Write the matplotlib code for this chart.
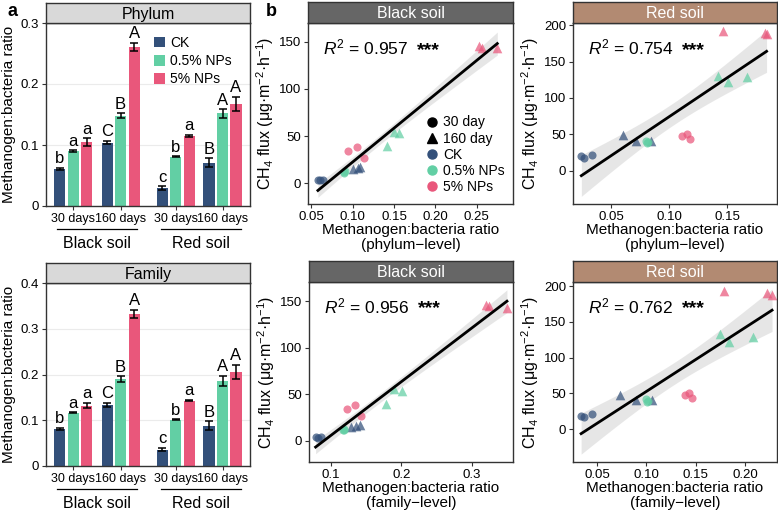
import numpy as np
import matplotlib
matplotlib.use("Agg")
import matplotlib.pyplot as plt
from matplotlib.lines import Line2D
import matplotlib.transforms as mtransforms

plt.rcParams['font.family'] = ['Liberation Sans', 'DejaVu Sans']
plt.rcParams['mathtext.fontset'] = 'custom'
plt.rcParams['mathtext.rm'] = 'Liberation Sans'
plt.rcParams['mathtext.it'] = 'Liberation Sans:italic'
plt.rcParams['mathtext.bf'] = 'Liberation Sans:bold'

# ---------------- data ----------------
treatments = ['CK', '0.5% NPs', '5% NPs']
days = ['30 days', '160 days', '30 days', '160 days']
soils = ['Black soil', 'Red soil']
colors = ['#33507A', '#62CFA4', '#E9577B']

# bar charts: order = Black 30, Black 160, Red 30, Red 160
phy_mean = [[0.061, 0.104, 0.029, 0.071],
            [0.090, 0.148, 0.081, 0.152],
            [0.105, 0.261, 0.115, 0.167]]
phy_se = [[0.002, 0.003, 0.003, 0.007],
          [0.001, 0.004, 0.001, 0.007],
          [0.006, 0.007, 0.002, 0.012]]
phy_letters = [['b', 'C', 'c', 'B'],
               ['a', 'B', 'b', 'A'],
               ['a', 'A', 'a', 'A']]

fam_mean = [[0.081, 0.134, 0.036, 0.088],
            [0.116, 0.190, 0.101, 0.186],
            [0.132, 0.333, 0.143, 0.206]]
fam_se = [[0.003, 0.004, 0.004, 0.010],
          [0.001, 0.006, 0.001, 0.011],
          [0.006, 0.009, 0.002, 0.015]]
fam_letters = phy_letters

# scatter: per treatment, 3 reps at 30 d then 3 reps at 160 d
# black soil, phylum
bp_x = [[0.058, 0.060, 0.064, 0.100, 0.106, 0.109],
        [0.089, 0.090, 0.091, 0.141, 0.150, 0.156],
        [0.094, 0.105, 0.114, 0.253, 0.257, 0.275]]
bp_y = [[3.5, 3.0, 3.2, 15, 16.4, 17.5],
        [11, 12, 13, 39, 54, 53],
        [34, 38.5, 27, 146, 144, 143]]
# red soil, phylum
rp_x = [[0.024, 0.026, 0.033, 0.060, 0.071, 0.084],
        [0.080, 0.081, 0.082, 0.142, 0.151, 0.167],
        [0.111, 0.115, 0.118, 0.146, 0.183, 0.184]]
rp_y = [[19.6, 16.9, 21.4, 48.6, 40.8, 40.8],
        [40.8, 38.6, 39.5, 130, 122.5, 128.4],
        [47.6, 49.9, 43.1, 191.8, 189.7, 188.3]]
# black soil, family
bf_x = [[0.078, 0.081, 0.085, 0.128, 0.135, 0.141],
        [0.117, 0.118, 0.119, 0.178, 0.190, 0.201],
        [0.122, 0.134, 0.143, 0.320, 0.324, 0.350]]
bf_y = [[3.6, 3.4, 3.8, 14.6, 16, 17],
        [11, 12, 13, 40, 56, 53.6],
        [34, 38.3, 27, 146.5, 144.7, 143]]
# red soil, family
rf_x = [[0.034, 0.037, 0.045, 0.073, 0.089, 0.106],
        [0.100, 0.101, 0.102, 0.174, 0.183, 0.208],
        [0.139, 0.143, 0.146, 0.178, 0.222, 0.227]]
rf_y = [[18, 17.2, 20.8, 48.5, 41, 41],
        [41.6, 38, 39.5, 132.6, 122.5, 129],
        [48.5, 50.4, 44, 193.6, 190.4, 188]]

r2_text = ['0.957', '0.754', '0.956', '0.762']

# ---------------- figure ----------------
W, H = 778, 515
fig = plt.figure(figsize=(W / 100, H / 100), dpi=100)
TICK = 9.5


def px_axes(left, top, right, bottom):
    return fig.add_axes([left / W, 1 - bottom / H, (right - left) / W, (bottom - top) / H])


def add_strip(left, top, right, bottom, label, fc, tc):
    s = px_axes(left, top, right, bottom)
    s.set_facecolor(fc)
    s.set_xticks([])
    s.set_yticks([])
    for sp in s.spines.values():
        sp.set_color('#333333')
        sp.set_linewidth(1.0)
    s.text(0.5, 0.45, label, ha='center', va='center', color=tc, fontsize=11.5,
           transform=s.transAxes)


centers = np.array([0, 1, 2.16, 3.15])
offs = [-0.285, 0, 0.285]
bw = 0.235


def bar_panel(top, bottom, means, ses, letters, ymax, yticks, title, legend=False):
    ax = px_axes(46, top, 250, bottom)
    add_strip(46, top - 20, 250, top, title, '#D9D9D9', 'black')
    for i in range(3):
        xs = centers + offs[i]
        ax.bar(xs, means[i], width=bw, color=colors[i], label=treatments[i], zorder=2)
        ax.errorbar(xs, means[i], yerr=ses[i], fmt='none', ecolor='black',
                    elinewidth=1.1, capsize=2.8, capthick=1.1, zorder=3)
        for x, m, s, l in zip(xs, means[i], ses[i], letters[i]):
            ax.text(x, m + s + ymax * 0.008, l, ha='center', va='bottom', fontsize=12)
    ax.set_xlim(-0.576, 3.73)
    ax.set_ylim(0, ymax)
    ax.set_yticks(yticks)
    ax.set_yticklabels(['0'] + [f'{v:g}' for v in yticks[1:]], fontsize=TICK)
    ax.set_xticks(centers)
    ax.set_xticklabels(days, fontsize=9)
    ax.tick_params(length=3, pad=2, color='#333333')
    ax.grid(axis='y', color='#EBEBEB', lw=0.8, zorder=0)
    ax.set_axisbelow(True)
    for sp in ax.spines.values():
        sp.set_color('#333333')
        sp.set_linewidth(1.0)
    ax.set_ylabel('Methanogen:bacteria ratio', fontsize=11, labelpad=3)
    tr = mtransforms.blended_transform_factory(ax.transData, ax.transAxes)
    for c, soil in zip([0.5, 2.7], soils):
        ax.plot([c - 0.85, c + 0.85], [-0.125, -0.125], color='black', lw=0.9,
                transform=tr, clip_on=False)
        ax.text(c, -0.205, soil, ha='center', va='center', fontsize=11.5, transform=tr)
    if legend:
        ax.legend(loc='upper left', bbox_to_anchor=(0.5, 0.96), frameon=False,
                  fontsize=10, handlelength=0.8, handleheight=0.8, handletextpad=0.4,
                  labelspacing=0.3, borderaxespad=0)
    return ax


bar_panel(23, 206, phy_mean, phy_se, phy_letters, 0.3, [0, 0.1, 0.2, 0.3], 'Phylum', legend=True)
bar_panel(283, 466, fam_mean, fam_se, fam_letters, 0.4, [0, 0.1, 0.2, 0.3, 0.4], 'Family')


def fit_band(x, y, xs):
    b, a = np.polyfit(x, y, 1)
    n = len(x)
    pred = a + b * xs
    resid = y - (a + b * x)
    s = np.sqrt(np.sum(resid ** 2) / (n - 2))
    sxx = np.sum((x - x.mean()) ** 2)
    se = s * np.sqrt(1 / n + (xs - x.mean()) ** 2 / sxx)
    t = 2.12
    return pred, pred - t * se, pred + t * se


def scatter_panel(box, xs, ys, xlim, ylim, xticks, xtl, yticks, title, fc, r2, level, legend=False):
    left, top, right, bottom = box
    ax = px_axes(left, top, right, bottom)
    add_strip(left, top - 21, right, top, title, fc, 'white')
    allx = np.concatenate([np.array(v) for v in xs])
    ally = np.concatenate([np.array(v) for v in ys])
    gx = np.linspace(allx.min(), allx.max(), 100)
    pred, lo, hi = fit_band(allx, ally, gx)
    ax.fill_between(gx, lo, hi, color='#D3D3D3', alpha=0.55, lw=0, zorder=1)
    for i in range(3):
        ax.scatter(xs[i][:3], ys[i][:3], marker='o', s=34, color=colors[i], alpha=0.72,
                   lw=0, zorder=2)
        ax.scatter(xs[i][3:], ys[i][3:], marker='^', s=48, color=colors[i], alpha=0.72,
                   lw=0, zorder=2)
    ax.plot(gx, pred, color='black', lw=2, zorder=3)
    ax.set_xlim(*xlim)
    ax.set_ylim(*ylim)
    ax.set_xticks(xticks)
    ax.set_xticklabels(xtl, fontsize=TICK)
    ax.set_yticks(yticks)
    ax.set_yticklabels([str(v) for v in yticks], fontsize=TICK)
    ax.tick_params(length=3, pad=2, color='#333333')
    for sp in ax.spines.values():
        sp.set_color('#333333')
        sp.set_linewidth(1.0)
    ax.set_xlabel('Methanogen:bacteria ratio\n(' + level + '\u2212level)', fontsize=11,
                  linespacing=1.1, labelpad=0)
    ax.set_ylabel('CH$_4$ flux (\u03bcg\u00b7m$^{-2}$\u00b7h$^{-1}$)',
                  fontsize=11.5, labelpad=2)
    t1 = ax.text(0.075, 0.865, r'$\it{R}^{2}$' + ' = ' + r2, transform=ax.transAxes,
                 ha='left', va='center', fontsize=12.5)
    ax.annotate('***', xy=(1, 0.5), xycoords=t1, xytext=(6, -2), textcoords='offset points',
                ha='left', va='center', fontsize=14, fontweight='bold')
    if legend:
        h = [Line2D([], [], marker='o', ls='', color='black', ms=6.5, label='30 day'),
             Line2D([], [], marker='^', ls='', color='black', ms=7.5, label='160 day')]
        for i in range(3):
            h.append(Line2D([], [], marker='o', ls='', color=colors[i], ms=6.5,
                            label=treatments[i]))
        ax.legend(handles=h, loc='upper left', bbox_to_anchor=(0.55, 0.52), frameon=False,
                  fontsize=10, handlelength=0.8, handletextpad=0.4, labelspacing=0.15,
                  borderaxespad=0)
    return ax


scatter_panel((308, 23, 513, 204), bp_x, bp_y, (0.046, 0.294), (-22, 170),
              [0.05, 0.10, 0.15, 0.20, 0.25], ['0.05', '0.10', '0.15', '0.20', '0.25'],
              [0, 50, 100, 150], 'Black soil', '#666666', r2_text[0], 'phylum', legend=True)
scatter_panel((573, 23, 777, 204), rp_x, rp_y, (0.0168, 0.193), (-46, 203),
              [0.05, 0.10, 0.15], ['0.05', '0.10', '0.15'],
              [0, 50, 100, 150, 200], 'Red soil', '#B28A72', r2_text[1], 'phylum')
scatter_panel((309, 282, 513, 462), bf_x, bf_y, (0.0686, 0.3586), (-23, 171),
              [0.1, 0.2, 0.3], ['0.1', '0.2', '0.3'],
              [0, 50, 100, 150], 'Black soil', '#666666', r2_text[2], 'family')
scatter_panel((573, 282, 777, 462), rf_x, rf_y, (0.0258, 0.232), (-46, 206),
              [0.05, 0.10, 0.15, 0.20], ['0.05', '0.10', '0.15', '0.20'],
              [0, 50, 100, 150, 200], 'Red soil', '#B28A72', r2_text[3], 'family')

fig.text(7 / W, 1 - 12 / H, 'a', fontsize=13, fontweight='bold', ha='left', va='center')
fig.text(266 / W, 1 - 12 / H, 'b', fontsize=13, fontweight='bold', ha='left', va='center')

fig.savefig('out.png', dpi=100)
